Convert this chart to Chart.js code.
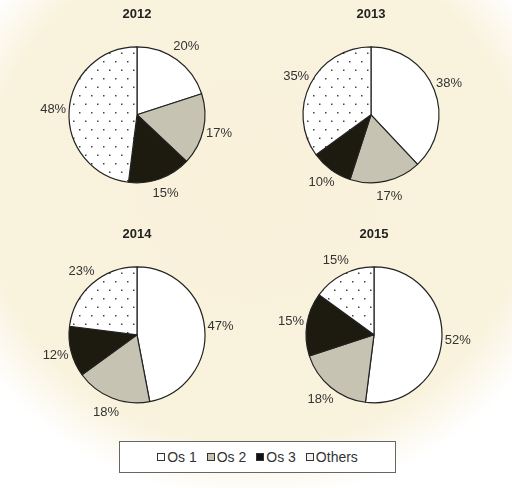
<!DOCTYPE html>
<html><head><meta charset="utf-8">
<script src="https://cdn.jsdelivr.net/npm/chart.js@4.4.0/dist/chart.umd.min.js"></script>
<style>
html,body{margin:0;padding:0;}
body{width:512px;height:488px;position:relative;overflow:hidden;
 background:radial-gradient(ellipse 330px 310px at 256px 190px,#f9f1da 0%,#f9f2dd 82%,#ffffff 100%);
 font-family:Arial,"Liberation Sans",sans-serif;}
canvas{position:absolute;}
#c0{left:17px;top:7px;}
#c1{left:251px;top:7px;}
#c2{left:17px;top:227px;}
#c3{left:254px;top:227px;}
#legend{position:absolute;left:119px;top:441px;width:275px;height:30px;border:1px solid #666;background:#fff;
 display:flex;align-items:center;justify-content:center;font-size:14px;color:#333;}
.item{display:flex;align-items:center;margin:0 5px;}
.sw{width:6px;height:6px;border:1px solid #333;margin-right:2px;}
</style></head><body>
<canvas id="c0" width="240" height="220"></canvas>
<canvas id="c1" width="240" height="220"></canvas>
<canvas id="c2" width="240" height="220"></canvas>
<canvas id="c3" width="240" height="220"></canvas>
<div id="legend"></div>
<script>
const categories = ['Os 1', 'Os 2', 'Os 3', 'Others'];
const years = ['2012', '2013', '2014', '2015'];
const values2012 = [20, 17, 15, 48];
const values2013 = [38, 17, 10, 35];
const values2014 = [47, 18, 12, 23];
const values2015 = [52, 18, 15, 15];
const allValues = [values2012, values2013, values2014, values2015];

function dotPattern() {
  const p = document.createElement('canvas');
  p.width = 12; p.height = 17;
  const g = p.getContext('2d');
  g.fillStyle = '#ffffff'; g.fillRect(0, 0, 12, 17);
  g.fillStyle = '#444444';
  g.fillRect(2, 3, 1.5, 1.5);
  g.fillRect(8, 11.5, 1.5, 1.5);
  return g.createPattern(p, 'repeat');
}

const labelPlugin = {
  id: 'outLabels',
  afterDatasetsDraw(chart) {
    const ctx = chart.ctx;
    const meta = chart.getDatasetMeta(0);
    const data = chart.data.datasets[0].data;
    ctx.save();
    ctx.font = '13px Arial, "Liberation Sans", sans-serif';
    ctx.fillStyle = '#333333';
    ctx.textAlign = 'center';
    ctx.textBaseline = 'middle';
    meta.data.forEach((arc, i) => {
      const p = arc.getProps(['x', 'y', 'startAngle', 'endAngle', 'outerRadius'], true);
      const mid = (p.startAngle + p.endAngle) / 2;
      const r = p.outerRadius + 16;
      ctx.fillText(data[i] + '%', p.x + Math.cos(mid) * r, p.y + Math.sin(mid) * r);
    });
    ctx.restore();
  }
};

const colors = ['#ffffff', '#c6c3b3', '#1d1a10'];

allValues.forEach((vals, k) => {
  const ctx = document.getElementById('c' + k).getContext('2d');
  new Chart(ctx, {
    type: 'pie',
    data: {
      labels: categories,
      datasets: [{
        data: vals,
        backgroundColor: [colors[0], colors[1], colors[2], dotPattern()],
        borderColor: '#222222',
        borderWidth: 1.2,
        radius: 68
      }]
    },
    options: {
      responsive: false,
      animation: false,
      layout: { padding: { top: 0, bottom: 24, left: 0, right: 0 } },
      plugins: {
        legend: { display: false },
        tooltip: { enabled: false },
        title: {
          display: true,
          text: years[k],
          color: '#222222',
          font: { family: 'Arial, "Liberation Sans", sans-serif', size: 13, weight: 'bold' },
          padding: { top: 0, bottom: 4 }
        }
      }
    },
    plugins: [labelPlugin]
  });
});

const legend = document.getElementById('legend');
const swatchFill = ['#ffffff', '#c6c3b3', '#111111', '#f3f3f3'];
categories.forEach((c, i) => {
  const it = document.createElement('span');
  it.className = 'item';
  const sw = document.createElement('span');
  sw.className = 'sw';
  sw.style.background = swatchFill[i];
  it.appendChild(sw);
  const t = document.createElement('span');
  t.textContent = c;
  it.appendChild(t);
  legend.appendChild(it);
});
</script>
</body></html>
